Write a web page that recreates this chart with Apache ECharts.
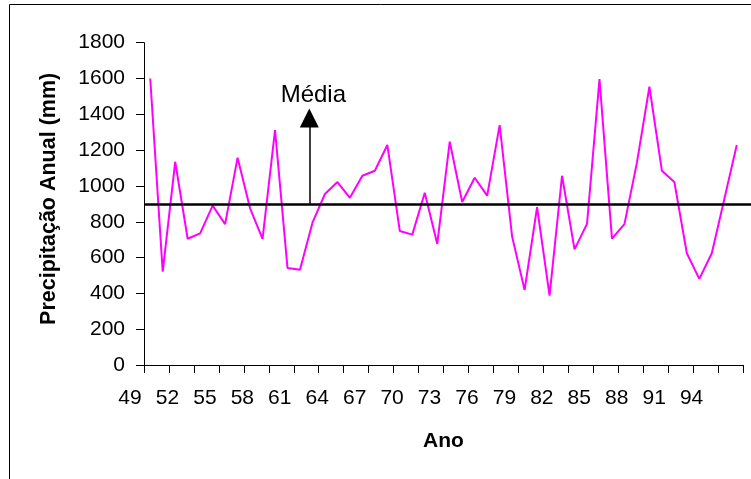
<!DOCTYPE html>
<html>
<head>
<meta charset="utf-8">
<script src="https://cdn.jsdelivr.net/npm/echarts@6/dist/echarts.min.js"></script>
<style>html,body{margin:0;padding:0;background:#fff;}#c{width:751px;height:479px;}</style>
</head>
<body>
<div id="c"></div>
<script>
// Years 1949..1996 (categories)
const years = ["49","50","51","52","53","54","55","56","57","58","59","60","61","62","63","64","65","66","67","68","69","70","71","72","73","74","75","76","77","78","79","80","81","82","83","84","85","86","87","88","89","90","91","92","93","94","95","96"];
// Annual precipitation (mm)
const precipitation = [1600,521,1135,705,735,890,787,1158,875,705,1312,542,532,795,955,1022,934,1057,1085,1229,748,728,962,676,1247,910,1046,946,1340,717,419,881,387,1057,646,788,1597,706,787,1130,1554,1085,1022,624,481,624,926,1229];
// Mean precipitation (mm)
const media = 900;
// x tick labels shown
const tickLabels = ["49","52","55","58","61","64","67","70","73","76","79","82","85","88","91","94"];
// y ticks
const yTicks = [0,200,400,600,800,1000,1200,1400,1600,1800];

const FONT = "'Liberation Sans', Arial, sans-serif";
const chart = echarts.init(document.getElementById('c'), null, {renderer:'canvas'});
const TOP = 42.7, BOTTOM = 114;
chart.setOption({
  animation: false,
  backgroundColor: '#fff',
  graphic: [{
    type: 'rect', shape: {x: 9.5, y: 4.5, width: 800, height: 500},
    style: {fill: 'none', stroke: '#000', lineWidth: 1}, silent: true, z: 0
  }],
  grid: [
    {left: 144, right: 8, top: TOP, bottom: BOTTOM},
    {left: 130, right: 22, top: TOP, bottom: BOTTOM},
    {left: 144, right: 0, top: TOP, bottom: BOTTOM}
  ],
  xAxis: [
    {
      type: 'category', gridIndex: 0, data: years, boundaryGap: true,
      axisLine: {lineStyle: {color: '#000', width: 1}},
      axisTick: {show: true, interval: 1, length: 8, lineStyle: {color: '#000'}},
      axisLabel: {show: false},
      name: 'Ano', nameLocation: 'middle', nameGap: 66,
      nameTextStyle: {fontFamily: FONT, fontSize: 21, fontWeight: 'bold', color: '#000'}
    },
    {
      type: 'value', gridIndex: 1, min: 49, max: 97, interval: 3,
      axisLine: {show: false}, axisTick: {show: false}, splitLine: {show: false},
      axisLabel: {
        margin: 23, fontFamily: FONT, fontSize: 21, color: '#000',
        formatter: v => tickLabels.indexOf(String(v)) >= 0 ? String(v) : ''
      }
    },
    {type: 'value', gridIndex: 2, min: 0, max: 1, show: false}
  ],
  yAxis: [
    {
      type: 'value', gridIndex: 0, min: yTicks[0], max: yTicks[yTicks.length-1], interval: 200,
      axisLine: {show: true, lineStyle: {color: '#000', width: 1}},
      axisTick: {show: true, length: 8, lineStyle: {color: '#000'}},
      splitLine: {show: false},
      axisLabel: {margin: 19, fontFamily: FONT, fontSize: 21, color: '#000',
                  formatter: v => String(v)},
      name: 'Precipitação Anual (mm)', nameLocation: 'middle', nameGap: 84,
      nameTextStyle: {fontFamily: FONT, fontSize: 21.5, fontWeight: 'bold', color: '#000', padding: [0,0,0,10]}
    },
    {type: 'value', gridIndex: 1, min: 0, max: 1800, show: false},
    {type: 'value', gridIndex: 2, min: 0, max: 1800, show: false}
  ],
  series: [
    {
      type: 'line', xAxisIndex: 0, yAxisIndex: 0, data: precipitation,
      symbol: 'none', lineStyle: {color: '#ff00ff', width: 2}, z: 3
    },
    {
      type: 'line', xAxisIndex: 2, yAxisIndex: 2, data: [],
      markLine: {
        silent: true, symbol: 'none',
        lineStyle: {color: '#000', width: 2.5, type: 'solid'},
        label: {show: false},
        data: [{yAxis: media}]
      }, z: 2
    },
    {
      type: 'line', xAxisIndex: 1, yAxisIndex: 1, data: [],
      markLine: {
        silent: true, symbol: ['none', 'triangle'], symbolSize: [19, 19],
        lineStyle: {color: '#000', width: 1.5, type: 'solid'},
        itemStyle: {color: '#000'},
        label: {show: true, position: 'end', formatter: 'Média', distance: 11,
                offset: [4, 0], fontFamily: FONT, fontSize: 24, color: '#000'},
        data: [[{coord: [63.37, media]}, {coord: [63.37, 1380]}]]
      }, z: 4
    }
  ]
});
</script>
</body>
</html>
